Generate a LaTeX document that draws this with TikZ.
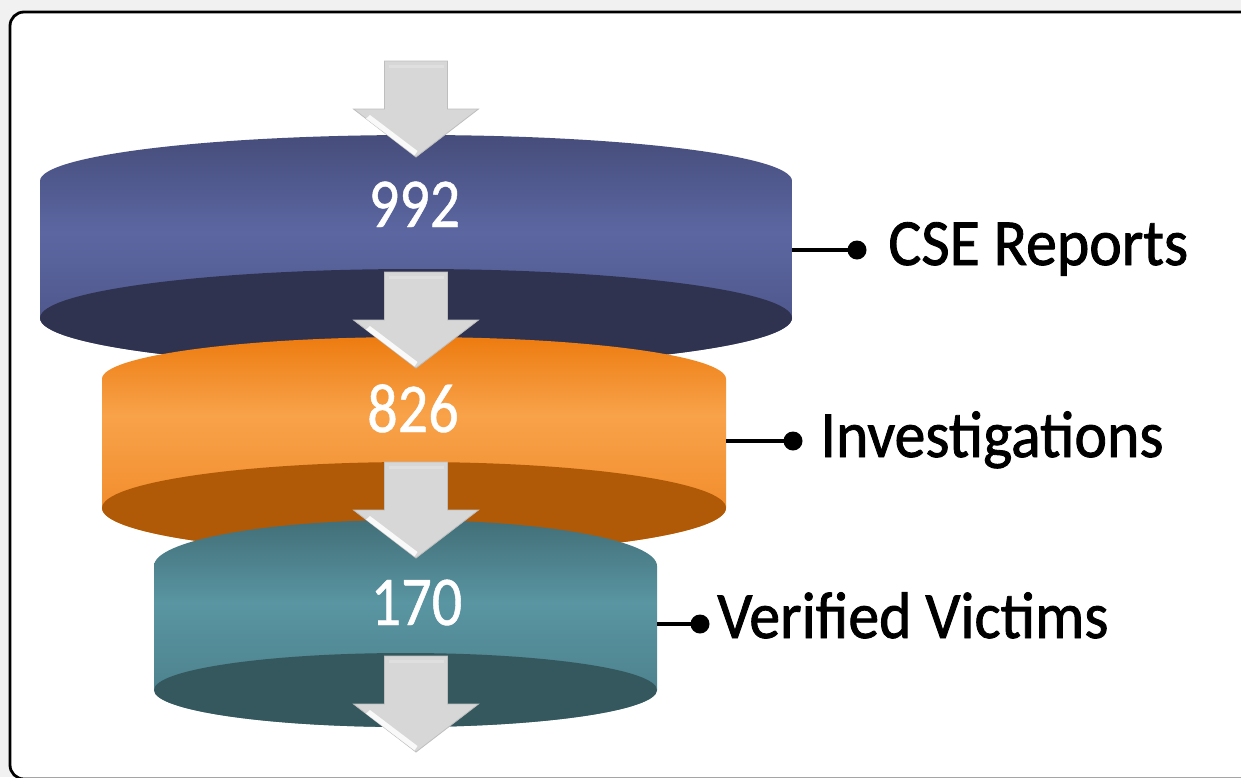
\documentclass[tikz,border=0pt]{standalone}
\usepackage{fontspec}
\newfontfamily\labelfont[FakeStretch=0.935,FakeBold=1.3]{Carlito}
\newfontfamily\numfont[FakeStretch=0.86,FakeBold=0.6]{Carlito}
\definecolor{bggray}{HTML}{F1F1F1}
% cylinder colours: side top / side middle / side bottom / inner ellipse
\definecolor{puA}{HTML}{464D7B}
\definecolor{puB}{HTML}{5C67A2}
\definecolor{puC}{HTML}{4B5385}
\definecolor{puD}{HTML}{2F3350}
\definecolor{orA}{HTML}{ED7C10}
\definecolor{orB}{HTML}{F8A24A}
\definecolor{orC}{HTML}{EE821C}
\definecolor{orD}{HTML}{B05A07}
\definecolor{teA}{HTML}{426F78}
\definecolor{teB}{HTML}{5995A2}
\definecolor{teC}{HTML}{497B85}
\definecolor{teD}{HTML}{35585E}
\definecolor{arrowgray}{HTML}{D7D7D7}
\definecolor{arrowedge}{HTML}{BEBEBE}
% side shadings: brightest band a little above the middle of each disc
\pgfdeclareverticalshading{purpleside}{100bp}{color(0bp)=(puC); color(25bp)=(puC); color(36bp)=(puC!70!puB); color(54bp)=(puB); color(75bp)=(puA); color(100bp)=(puA)}
\pgfdeclareverticalshading{orangeside}{100bp}{color(0bp)=(orC); color(25bp)=(orC); color(38bp)=(orC!55!orB); color(57bp)=(orB); color(75bp)=(orA); color(100bp)=(orA)}
\pgfdeclareverticalshading{tealside}{100bp}{color(0bp)=(teC); color(25bp)=(teC); color(37bp)=(teC!60!teB); color(55bp)=(teB); color(75bp)=(teA); color(100bp)=(teA)}
\begin{document}
\begin{tikzpicture}[x=0.5pt,y=-0.5pt,
  frame/.style={draw=black,fill=white,line width=1.4pt,rounded corners=7pt},
  conn/.style={draw=black,line width=1.7pt},
  dotn/.style={circle,fill=black,inner sep=0pt,minimum size=9.5pt},
  lab/.style={font=\labelfont\fontsize{33pt}{36pt}\selectfont,text=black,inner sep=0pt,anchor=base west},
  num/.style={font=\numfont\fontsize{35pt}{38pt}\selectfont,text=white,inner sep=0pt,anchor=base},
  farrow/.pic={
    \path[fill=arrowgray,draw=arrowedge,line width=0.4pt,line join=miter]
      (-31.5,0) -- (31.5,0) -- (31.5,48) -- (62.5,48) -- (0,96)
      -- (-62.5,48) -- (-31.5,48) -- cycle;
    % bevel highlight on the left slope of the head
    \fill[white,opacity=0.85] (-50,57.6) -- (-1.5,94.5) -- (1.5,90) -- (-46,54) -- cycle;
    \fill[white,opacity=0.2] (-27.5,4) -- (27.5,4) -- (27.5,7) -- (-27.5,7) -- cycle;
  }]
\useasboundingbox (0,0) rectangle (1241,777);
\clip (0,0) rectangle (1241,777);
\fill[bggray] (0,0) rectangle (1241,777);
\path[frame] (10,12) rectangle (1262,779);

% --- top disc: CSE reports
\path[shading=purpleside]
  (40,181) arc[start angle=180,end angle=360,x radius=376,y radius=46]
  -- (792,318) arc[start angle=0,end angle=180,x radius=376,y radius=49] -- cycle;
\fill[puD] (416,318) ellipse[x radius=376,y radius=49];

% --- middle disc: investigations
\path[shading=orangeside]
  (102,379) arc[start angle=180,end angle=360,x radius=312,y radius=42]
  -- (726,508) arc[start angle=0,end angle=180,x radius=312,y radius=46] -- cycle;
\fill[orD] (414,508) ellipse[x radius=312,y radius=46];

% --- bottom disc: verified victims
\path[shading=tealside]
  (154,566) arc[start angle=180,end angle=360,x radius=251.5,y radius=46]
  -- (657,690) arc[start angle=0,end angle=180,x radius=251.5,y radius=37] -- cycle;
\fill[teD] (405.5,690) ellipse[x radius=251.5,y radius=37];

% --- flow arrows
\pic at (416,61) {farrow};
\pic at (416,272) {farrow};
\pic at (416,462) {farrow};
\pic at (416,656) {farrow};

% --- values
\node[num] (n1) at (414.5,227) {992};
\node[num] (n2) at (413,432) {826};
\node[num] (n3) at (416.5,625) {170};

% --- callouts
\coordinate (e1) at (792,250);
\coordinate (e2) at (726,441);
\coordinate (e3) at (657,624);
\node[dotn] (d1) at (857,250) {};
\node[dotn] (d2) at (793,441) {};
\node[dotn] (d3) at (700,624) {};
\draw[conn] (e1) -- (d1.center);
\draw[conn] (e2) -- (d2.center);
\draw[conn] (e3) -- (d3.center);
\node[lab] (l1) at (888,265) {CSE Reports};
\node[lab] (l2) at (820,457) {Investigations};
\node[lab] (l3) at (717,638) {Verified Victims};
\end{tikzpicture}
\end{document}
